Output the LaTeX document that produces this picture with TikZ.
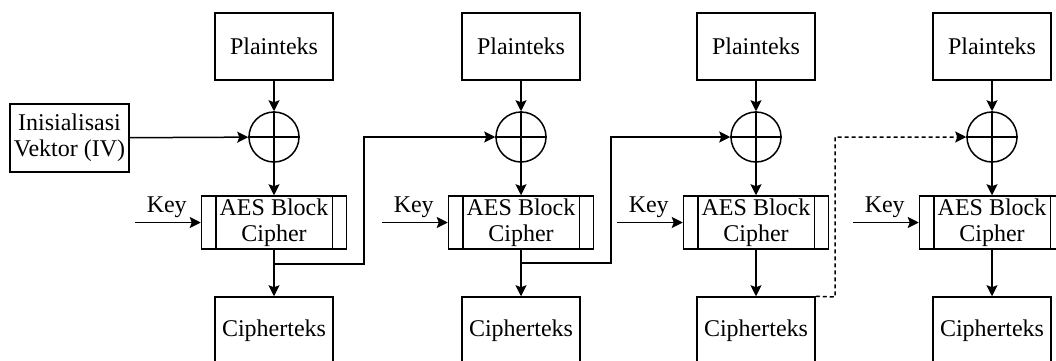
\documentclass[tikz,border=0pt]{standalone}
\usepackage{fontspec}
\setmainfont{LiberationSerif}[Extension=.ttf,UprightFont=*-Regular,BoldFont=*-Bold]
\usetikzlibrary{arrows.meta}
\begin{document}
\begin{tikzpicture}[x=0.5pt,y=-0.5pt,
  font=\rmfamily\fontsize{12pt}{13pt}\selectfont,
  box/.style={draw,line width=0.75pt,minimum width=59pt,minimum height=33.5pt,inner sep=0pt,align=center},
  aes/.style={draw,line width=0.75pt,minimum width=72.5pt,minimum height=26.5pt,inner sep=0pt,align=center},
  xor/.style={draw,circle,line width=0.75pt,minimum size=25pt,inner sep=0pt},
  conn/.style={line width=0.75pt,-{Stealth[length=5.5pt,width=5.5pt,inset=1pt]}},
  plainline/.style={line width=0.75pt},
  lbl/.style={inner sep=0pt}]
\useasboundingbox (0,0) rectangle (1056,360);
\clip (0,0) rectangle (1056,360);

% IV
\node[box,minimum width=59.5pt,minimum height=34pt] (iv) at (69.5,138) {Inisialisasi\\Vektor (IV)};

% columns
\foreach \i/\cx in {1/274,2/521,3/756,4/992}{
  \node[box] (p\i) at (\cx,46.5) {Plainteks};
  \node[xor] (x\i) at (\cx,137) {};
  \node[aes] (a\i) at (\cx,222.5) {AES Block\\Cipher};
  \node[box] (c\i) at (\cx,330.5) {Cipherteks};
  \draw[plainline] ([xshift=7.5pt]a\i.north west) -- ([xshift=7.5pt]a\i.south west);
  \draw[plainline] ([xshift=-7.5pt]a\i.north east) -- ([xshift=-7.5pt]a\i.south east);
  \draw[plainline] (x\i.west) -- (x\i.east);
  \draw[plainline] (x\i.north) -- (x\i.south);
  \draw[conn] (p\i) -- (x\i);
  \draw[conn] (x\i) -- (a\i);
  \draw[conn] (a\i) -- (c\i);
  \coordinate (k\i) at ([xshift=-33pt]a\i.west);
  \draw[conn] (k\i) -- (a\i.west);
  \node[lbl] (kl\i) at ([xshift=-17pt,yshift=7.5pt]a\i.west) {Key};
}

\draw[conn] (iv) -- (x1);

% chaining
\coordinate (b1) at (274,264);
\coordinate (r1) at (364,264);
\draw[conn] (b1) -- (r1) |- (x2.west);

\coordinate (b2) at (521,263);
\coordinate (r2) at (611,263);
\draw[conn] (b2) -- (r2) |- (x3.west);

\coordinate (r3) at (835,297);
\draw[conn,dash pattern=on 2pt off 1.5pt] (c3.north east) -- (r3) |- (x4.west);
\end{tikzpicture}
\end{document}
